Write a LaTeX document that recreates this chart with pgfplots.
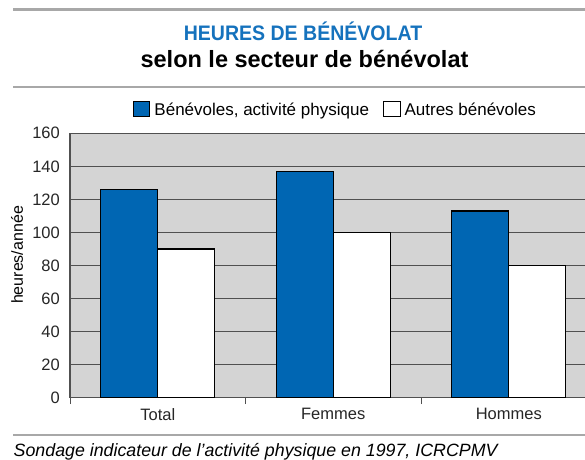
\documentclass[border=0pt]{standalone}
\usepackage{fontspec}
\setmainfont{Liberation Sans}
\usepackage{pgfplots}
\pgfplotsset{compat=1.18}
\definecolor{barblue}{HTML}{0066B3}
\definecolor{titleblue}{HTML}{1572BD}
\definecolor{bggray}{HTML}{D4D4D4}
\definecolor{gridgray}{HTML}{505050}
\definecolor{rulegray}{HTML}{A8A8A8}
\begin{document}
\begin{tikzpicture}[x=1pt,y=1pt]
\path[use as bounding box] (0,0) rectangle (585,459);
\clip (0,0) rectangle (585,459);
\draw[rulegray, line width=2.5pt] (13,449.5) -- (585,449.5);
\draw[rulegray, line width=2.5pt] (13,372) -- (585,372);
\draw[rulegray, line width=2.5pt] (13,24) -- (585,24);
\node[font=\fontsize{21}{24}\selectfont\bfseries, text=titleblue, anchor=base, inner sep=0pt, xscale=0.93] at (303,418.3) {HEURES DE BÉNÉVOLAT};
\node[font=\fontsize{23.5}{26}\selectfont\bfseries, anchor=base, inner sep=0pt] at (304.5,391.7) {selon le secteur de bénévolat};
\node[font=\fontsize{17.8}{20}\selectfont\itshape, anchor=base west, inner sep=0pt] at (13.5,3) {Sondage indicateur de l’activité physique en 1997, ICRCPMV};
\begin{axis}[
  at={(70pt,61.3pt)}, anchor=south west, scale only axis,
  width=515pt, height=264.4pt,
  xmin=-0.5, xmax=2.4345, ymin=0, ymax=160,
  ytick={0,20,...,160},
  xtick={0,1,2}, xticklabels={Total,Femmes,Hommes},
  minor xtick={-0.5,0.5,1.5},
  major tick length=0pt, minor tick length=6.5pt,
  tick align=inside,
  minor tick style={draw=gridgray, line width=1pt},
  axis x line*=bottom, axis y line*=left,
  axis line style={-, draw=gridgray, line width=1.3pt},
  axis background/.style={fill=bggray},
  ymajorgrids, major grid style={draw=gridgray, line width=1.4pt},
  ybar=0pt, bar width=0.325,
  ticklabel style={font=\fontsize{16.5}{19}\selectfont, text=black!85},
  yticklabel style={anchor=east, inner sep=0pt, xshift=-10pt},
  xticklabel style={anchor=north, inner sep=0pt, yshift=-10.5pt},
  /pgf/number format/assume math mode=true,
  ylabel={heures/année},
  every axis y label/.style={at={(axis description cs:-0.1029,0.5397)}, rotate=90, anchor=center, font=\fontsize{16}{19}\selectfont},
  legend style={at={(0.1217,1.0919)}, anchor=west, draw=none, fill=none, inner sep=0pt,
    font=\fontsize{17}{20}\selectfont, nodes={inner sep=0pt},
    /tikz/every odd column/.append style={column sep=4pt},
    /tikz/every even column/.append style={column sep=14pt}},
  legend columns=2,
  legend image code/.code={\draw[#1, line width=1pt] (0pt,-6.7pt) rectangle (16.6pt,8.7pt);},
]
\addplot[fill=barblue, draw=black, line width=1.1pt] coordinates {(0,126) (1,137) (2,113)};
\addplot[fill=white, draw=black, line width=1.1pt] coordinates {(0,90) (1,100) (2,80)};
\legend{{Bénévoles, activité physique}, Autres bénévoles}
\end{axis}
\end{tikzpicture}
\end{document}
